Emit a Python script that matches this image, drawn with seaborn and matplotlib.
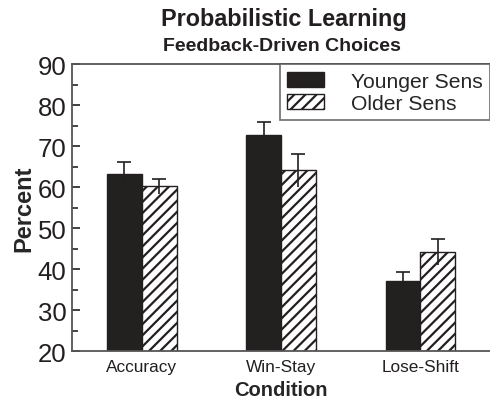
import numpy as np
import pandas as pd
import seaborn as sns
import matplotlib
matplotlib.use("Agg")
from matplotlib import pyplot as plt
from matplotlib.ticker import MultipleLocator

# data
conditions = ["Accuracy", "Win-Stay", "Lose-Shift"]
groups = ["Younger Sens", "Older Sens"]
younger = [63.2, 72.7, 37.1]
older = [60.2, 64.1, 44.1]
younger_err = [2.9, 3.3, 2.2]
older_err = [1.8, 4.1, 3.2]

df = pd.DataFrame({
    "Condition": conditions * 2,
    "Group": [groups[0]] * 3 + [groups[1]] * 3,
    "Percent": younger + older,
})
errs = younger_err + older_err

sns.set_style("ticks")
plt.rcParams['font.family'] = ['Liberation Sans', 'DejaVu Sans']
plt.rcParams['hatch.linewidth'] = 1.6

fig = plt.figure(figsize=(4.9, 4.02), dpi=100)
ax = fig.add_axes([0.147, 0.124, 0.853, 0.714])

sns.barplot(data=df, x="Condition", y="Percent", hue="Group", order=conditions,
            hue_order=groups, palette=["#231f20", "white"], errorbar=None,
            width=0.5, edgecolor="#231f20", linewidth=1.0, ax=ax)

bars = ax.patches[:6]
for i, b in enumerate(bars):
    if i >= 3:
        b.set_hatch("///")
        b.set_facecolor("white")
    x = b.get_x() + b.get_width() / 2
    h = b.get_height()
    _, caps, _ = ax.errorbar(x, h, yerr=errs[i], fmt="none", ecolor="#231f20",
                             elinewidth=1.2, capsize=5, capthick=1.2, zorder=5)
    caps[0].set_visible(False)

ax.set_ylim(20, 90)
ax.set_xlim(-0.5, 2.5)
ax.yaxis.set_major_locator(MultipleLocator(10))
ax.yaxis.set_minor_locator(MultipleLocator(5))
ax.tick_params(axis="y", which="major", direction="in", length=6, width=1.2,
               labelsize=18.5, colors="#231f20", pad=4)
ax.tick_params(axis="y", which="minor", direction="in", length=4, width=1.2)
ax.tick_params(axis="x", length=0, labelsize=12.4, pad=6, colors="#231f20")
for s in ["left", "bottom", "top"]:
    ax.spines[s].set_color("#555555")
    ax.spines[s].set_linewidth(1.3)
ax.spines["right"].set_visible(False)

ax.set_xlabel("Condition", fontsize=14.5, fontweight="bold", labelpad=4)
ax.set_ylabel("Percent", fontsize=17, fontweight="bold", labelpad=2)

leg = ax.legend(loc="upper right", fontsize=15.2, frameon=True, fancybox=False,
                borderaxespad=0.0, handlelength=1.75, handleheight=0.75,
                borderpad=0.35, labelspacing=0.15, handletextpad=1.28)
leg.get_frame().set_edgecolor("#555555")
leg.get_frame().set_linewidth(1.3)
for h in leg.legend_handles:
    h.set_edgecolor("#231f20")
leg.legend_handles[1].set_hatch("///")

fig.text(0.58, 0.952, "Probabilistic Learning", ha="center", va="center",
         fontsize=16.8, fontweight="bold", color="#231f20")
fig.text(0.576, 0.885, "Feedback-Driven Choices", ha="center", va="center",
         fontsize=14, fontweight="bold", color="#231f20")

fig.savefig("out.png", dpi=100)
